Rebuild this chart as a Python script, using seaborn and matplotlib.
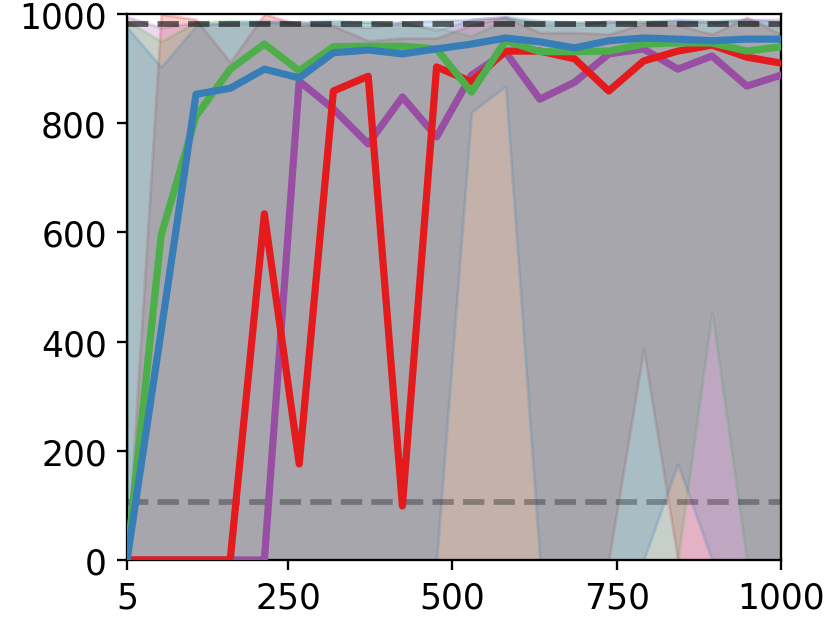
import numpy as np
import pandas as pd
import matplotlib
matplotlib.use("Agg")
import matplotlib.pyplot as plt
import seaborn as sns

# ---- data ----
steps = [5, 57, 110, 162, 214, 267, 319, 372, 424, 476,
         529, 581, 633, 686, 738, 791, 843, 895, 948, 1000]

red_mean = [0, 0, 0, 0, 634, 176, 859, 886, 99, 903,
            876, 932, 932, 918, 859, 914, 932, 943, 921, 910]
purple_mean = [0, 0, 0, 0, 0, 877, 826, 762, 848, 775,
               888, 930, 844, 875, 927, 936, 899, 923, 868, 888]
blue_mean = [0, 420, 853, 864, 899, 883, 929, 934, 927, 936,
             945, 956, 949, 938, 951, 956, 954, 951, 954, 954]
green_mean = [0, 595, 813, 899, 945, 896, 940, 941, 941, 936,
              857, 951, 931, 931, 932, 945, 947, 947, 932, 940]

red_lo = [0, 0, 0, 0, 0, 0, 0, 0, 0, 0,
          0, 0, 0, 0, 0, 386, 0, 0, 0, 0]
red_hi = [0, 1000, 990, 912, 1000, 980, 978, 951, 956, 956,
          980, 994, 966, 966, 963, 982, 980, 963, 994, 963]
purple_lo = [0] * 20
purple_hi = [995, 975, 985, 980, 985, 985, 980, 975, 985, 970,
             990, 995, 980, 980, 988, 985, 988, 985, 990, 990]
blue_lo = [0, 0, 0, 0, 0, 0, 0, 0, 0, 0,
           820, 868, 0, 0, 0, 0, 176, 0, 0, 0]
blue_hi = [976, 903, 978, 985, 988, 985, 988, 985, 985, 988,
           990, 995, 988, 985, 985, 985, 990, 988, 990, 985]
green_lo = [0, 0, 0, 0, 0, 0, 0, 0, 0, 0,
            0, 0, 0, 0, 0, 0, 0, 454, 0, 0]
green_hi = [987, 950, 985, 988, 985, 980, 985, 985, 980, 975,
            960, 990, 985, 985, 985, 988, 985, 985, 988, 975]

ref_high = 982
ref_low = 106

x_ticks = [5, 250, 500, 750, 1000]
y_ticks = [0, 200, 400, 600, 800, 1000]

fill_order = ["red", "purple", "green", "blue"]
line_order = ["purple", "red", "green", "blue"]
colors = {"red": "#e41a1c", "blue": "#377eb8",
          "green": "#4daf4a", "purple": "#984ea3"}
means = {"red": red_mean, "purple": purple_mean,
         "blue": blue_mean, "green": green_mean}
lows = {"red": red_lo, "purple": purple_lo,
        "blue": blue_lo, "green": green_lo}
highs = {"red": red_hi, "purple": purple_hi,
         "blue": blue_hi, "green": green_hi}

df = pd.concat([pd.DataFrame({"step": steps, "value": means[n], "run": n})
                for n in line_order], ignore_index=True)

# ---- figure ----
fig = plt.figure(figsize=(4, 3.0024), dpi=207.5)
ax = fig.add_axes([127 / 830, 1 - 561 / 623, (781 - 127) / 830, (561 - 15) / 623])

for n in fill_order:
    ax.fill_between(steps, lows[n], highs[n], color=colors[n], alpha=0.21, lw=1.0)

ax.axhline(ref_high, color="k", alpha=0.6, lw=2, ls="--", zorder=3)
ax.axhline(ref_low, color="k", alpha=0.3, lw=2, ls="--", zorder=3)

sns.lineplot(data=df, x="step", y="value", hue="run", hue_order=line_order,
             palette=colors, lw=2.5, ax=ax, legend=False, zorder=4)

ax.set_xlim(5, 1000)
ax.set_ylim(0, 1000)
ax.set_xticks(x_ticks)
ax.set_yticks(y_ticks)
ax.tick_params(labelsize=12)
ax.set_xlabel("")
ax.set_ylabel("")

fig.savefig("out.png", dpi=207.5)
